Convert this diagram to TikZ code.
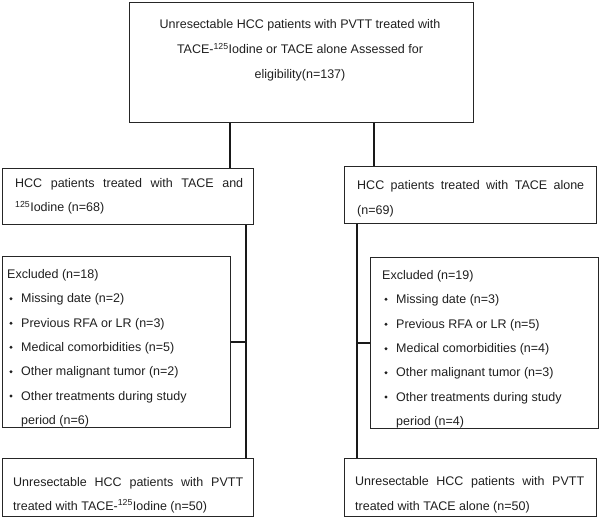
\documentclass[tikz,border=0pt]{standalone}
\usepackage{fontspec}
\setmainfont{Liberation Sans}
\begin{document}
\begin{tikzpicture}[x=1pt,y=-1pt,
  box/.style={draw=black!85,line width=1pt,inner sep=0pt,anchor=north west},
  conn/.style={line width=2pt,draw=black!90},
  txt/.style={anchor=base west,inner sep=0pt,font=\fontsize{12.5}{15}\selectfont,text=black!88},
  ctxt/.style={anchor=base,inner sep=0pt,font=\fontsize{12.5}{15}\selectfont,text=black!88},
  bul/.style={fill=black!88}]
\useasboundingbox (0,0) rectangle (600,521);
% boxes
\node[box,minimum width=344pt,minimum height=120pt] (top) at (129,2) {};
\node[box,minimum width=251pt,minimum height=56pt] (l1) at (2,168) {};
\node[box,minimum width=228pt,minimum height=171pt] (l2) at (2,256) {};
\node[box,minimum width=251pt,minimum height=58pt] (l3) at (2,458) {};
\node[box,minimum width=252pt,minimum height=57pt] (r1) at (344,166) {};
\node[box,minimum width=228pt,minimum height=171pt] (r2) at (370,257) {};
\node[box,minimum width=252pt,minimum height=58pt] (r3) at (344,458) {};
% top text
\node[ctxt] (t1) at (300,29) {Unresectable HCC patients with PVTT treated with};
\node[ctxt] (t2) at (300,54) {TACE-\textsuperscript{125}Iodine or TACE alone Assessed for};
\node[ctxt] (t3) at (300,78.5) {eligibility(n=137)};
% left first box
\node[txt] (l1a) at (15,187.7) {\makebox[228pt][s]{HCC patients treated with TACE and}};
\node[txt] (l1b) at (15,211.7) {\textsuperscript{125}Iodine (n=68)};
% left excluded
\node[txt] (l2a) at (7,278.3) {Excluded (n=18)};
\node[txt] (l2b) at (21,302.7) {Missing date (n=2)};
\node[txt] (l2c) at (21,327.3) {Previous RFA or LR (n=3)};
\node[txt] (l2d) at (21,351.3) {Medical comorbidities (n=5)};
\node[txt] (l2e) at (21,375.7) {Other malignant tumor (n=2)};
\node[txt] (l2f) at (21,400) {Other treatments during study};
\node[txt] (l2g) at (21,424.3) {period (n=6)};
\foreach \yy in {302.7,327.3,351.3,375.7,400} \fill[bul] (11,\yy-4) circle (1.6pt);
% left bottom
\node[txt] (l3a) at (13,486) {\makebox[230pt][s]{Unresectable HCC patients with PVTT}};
\node[txt] (l3b) at (13,510) {treated with TACE-\textsuperscript{125}Iodine (n=50)};
% right first box
\node[txt] (r1a) at (357,189.3) {\makebox[227pt][s]{HCC patients treated with TACE alone}};
\node[txt] (r1b) at (357,214.3) {(n=69)};
% right excluded
\node[txt] (r2a) at (382,279.3) {Excluded (n=19)};
\node[txt] (r2b) at (396,303.3) {Missing date (n=3)};
\node[txt] (r2c) at (396,328.3) {Previous RFA or LR (n=5)};
\node[txt] (r2d) at (396,352.7) {Medical comorbidities (n=4)};
\node[txt] (r2e) at (396,376.7) {Other malignant tumor (n=3)};
\node[txt] (r2f) at (396,401) {Other treatments during study};
\node[txt] (r2g) at (396,425) {period (n=4)};
\foreach \yy in {303.3,328.3,352.7,376.7,401} \fill[bul] (386,\yy-4) circle (1.6pt);
% right bottom
\node[txt] (r3a) at (355,485) {\makebox[229pt][s]{Unresectable HCC patients with PVTT}};
\node[txt] (r3b) at (355,510) {treated with TACE alone (n=50)};
% connectors
\coordinate (tl) at ([xshift=101pt]top.south west);
\coordinate (tr) at ([xshift=-100pt]top.south east);
\draw[conn] (tl) -- (tl |- l1.north);
\draw[conn] (tr) -- (tr |- r1.north);
\coordinate (lv) at ([xshift=-8pt]l1.south east);
\draw[conn] (lv) -- (lv |- l3.north);
\draw[conn] (l2.east) -- (l2.east -| lv);
\coordinate (rv) at ([xshift=13pt]r1.south west);
\draw[conn] (rv) -- (rv |- r3.north);
\draw[conn] (r2.west) -- (r2.west -| rv);
\end{tikzpicture}
\end{document}
